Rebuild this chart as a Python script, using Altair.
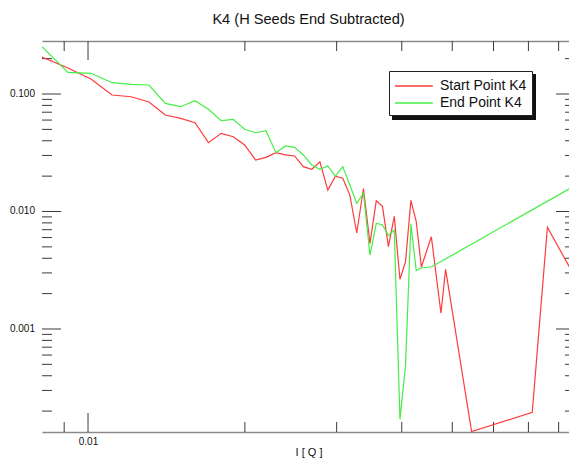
import altair as alt
import pandas as pd

FONT = "Liberation Sans"
title_text = "K4 (H Seeds End Subtracted)"
x_title = "I [ Q ]"
series_names = ["Start Point K4", "End Point K4"]
RED = "#ff3b3b"
GREEN = "#44ee44"

start_q = [0.00816, 0.00915, 0.01013, 0.01112, 0.0121, 0.01309, 0.01407, 0.01506, 0.01604, 0.01703,
           0.01801, 0.0190, 0.01998, 0.02097, 0.02195, 0.02294, 0.02392, 0.02491, 0.02589, 0.02688,
           0.02786, 0.02885, 0.02983, 0.03082, 0.0318, 0.03279, 0.03377, 0.03476, 0.03574, 0.03673,
           0.03771, 0.0387, 0.03968, 0.04067, 0.04165, 0.04264, 0.04362, 0.04559, 0.04756, 0.04855,
           0.05446, 0.0712, 0.07613, 0.0840]
start_i = [0.2065, 0.1665, 0.1341, 0.0980, 0.0948, 0.0855, 0.0663, 0.0621, 0.0570, 0.0385,
           0.0463, 0.0433, 0.0368, 0.0274, 0.0289, 0.0317, 0.0303, 0.0297, 0.0241, 0.0229,
           0.0265, 0.0152, 0.0200, 0.0192, 0.0138, 0.00656, 0.0157, 0.00536, 0.01235, 0.01107,
           0.00502, 0.00910, 0.00265, 0.00374, 0.01243, 0.00822, 0.00337, 0.00610, 0.00136, 0.00322,
           0.000134, 0.000195, 0.00734, 0.00334]

end_q = [0.00816, 0.00915, 0.01013, 0.01112, 0.0121, 0.01309, 0.01407, 0.01506, 0.01604, 0.01703,
         0.01801, 0.0190, 0.01998, 0.02097, 0.02195, 0.02294, 0.02392, 0.02491, 0.02589, 0.02688,
         0.02786, 0.02885, 0.02983, 0.03082, 0.0318, 0.03279, 0.03377, 0.03476, 0.03574, 0.03673,
         0.03771, 0.0387, 0.03968, 0.04067, 0.04165, 0.04264, 0.04362, 0.04559, 0.0840]
end_i = [0.2527, 0.1530, 0.1500, 0.1248, 0.1210, 0.1193, 0.0833, 0.0780, 0.0877, 0.0741,
         0.0593, 0.0609, 0.0501, 0.0468, 0.0487, 0.0317, 0.0361, 0.0352, 0.0303, 0.0249,
         0.0229, 0.0244, 0.0200, 0.0241, 0.0168, 0.01170, 0.01437, 0.00426, 0.00794, 0.00768,
         0.00625, 0.00696, 0.000171, 0.000484, 0.00787, 0.00314, 0.00332, 0.00337, 0.01566]

x_major = [0.01]
x_minor = [0.009, 0.02, 0.03, 0.04, 0.05, 0.06, 0.07, 0.08]
y_major = [0.1, 0.01, 0.001]
y_minor = [0.2,
           0.09, 0.08, 0.07, 0.06, 0.05, 0.04, 0.03, 0.02,
           0.009, 0.008, 0.007, 0.006, 0.005, 0.004, 0.003, 0.002,
           0.0009, 0.0008, 0.0007, 0.0006, 0.0005, 0.0004, 0.0003, 0.0002]

W, H = 527, 391
XR = 533          # plot's right edge lies just beyond the picture
MAJ, MIN = 19, 10
TICK = "#3a3a3a"

x_scale = alt.Scale(type="log", domain=[0.00816, 0.0860], range=[0, XR])
y_scale = alt.Scale(type="log", domain=[0.0001328, 0.2826])

df = pd.DataFrame({
    "q": start_q + end_q,
    "I": start_i + end_i,
    "series": [series_names[0]] * len(start_q) + [series_names[1]] * len(end_q),
})

lines = alt.Chart(df).mark_line(strokeWidth=1.2, clip=True).encode(
    x=alt.X("q:Q", scale=x_scale,
            axis=alt.Axis(orient="bottom", values=x_major, format=".2f", title=x_title,
                          ticks=False, tickSize=0, labelPadding=4, grid=False,
                          titleY=23, titleBaseline="alphabetic")),
    y=alt.Y("I:Q", scale=y_scale, axis=None),
    color=alt.Color("series:N", scale=alt.Scale(domain=series_names, range=[RED, GREEN]),
                    legend=alt.Legend(orient="none", legendX=347, legendY=30, title=None,
                                      fillColor="white", strokeColor="#222", padding=5,
                                      symbolType="M-1,0L3.2,0", symbolSize=324,
                                      symbolStrokeWidth=1.3, labelFontSize=14, labelFont=FONT,
                                      labelColor="#111", labelOffset=26, rowPadding=0)),
)


def xticks(vals, y0, y1, axis=None):
    return alt.Chart(pd.DataFrame({"v": vals})).mark_rule(color=TICK, strokeWidth=1).encode(
        x=alt.X("v:Q", scale=x_scale, axis=axis), y=alt.value(y0), y2=alt.value(y1))


def yticks(vals, x0, x1, axis=None):
    return alt.Chart(pd.DataFrame({"v": vals})).mark_rule(color=TICK, strokeWidth=1).encode(
        y=alt.Y("v:Q", scale=y_scale, axis=axis), x=alt.value(x0), x2=alt.value(x1))


top_axis = alt.Axis(orient="top", labels=False, ticks=False, title=None, grid=False)
left_axis = alt.Axis(orient="left", values=y_major, labels=False, title=None, ticks=False,
                     tickSize=0, grid=False)

# y tick labels, placed through the y scale
y_labels = alt.Chart(pd.DataFrame({"v": y_major})).mark_text(
    align="right", baseline="middle", font=FONT, fontSize=10, color="#111").encode(
    y=alt.Y("v:Q", scale=y_scale, axis=None), x=alt.value(-7),
    text=alt.Text("v:Q", format=".3f"))

shadow = alt.Chart(pd.DataFrame({"a": [0]})).mark_rect(color="#111").encode(
    x=alt.value(350), x2=alt.value(494), y=alt.value(33), y2=alt.value(79))

chart = alt.layer(
    xticks(x_major, 0, MAJ, top_axis),
    xticks(x_minor, 0, MIN),
    xticks(x_major, H, H - MAJ),
    xticks(x_minor, H, H - MIN),
    yticks(y_major, 0, MAJ, left_axis),
    yticks(y_minor, 0, MIN),
    yticks(y_major, XR - MAJ, XR),
    yticks(y_minor, XR - MIN, XR),
    y_labels,
    shadow,
    lines,
).properties(
    width=W, height=H,
    padding={"left": 42, "top": 41, "right": 0, "bottom": 26},
    autosize=alt.AutoSizeParams(type="none"),
    title=alt.TitleParams(title_text, fontSize=14.6, font=FONT, fontWeight="normal",
                          color="#111", offset=2, baseline="alphabetic", dx=3),
).configure_view(stroke=None).configure_axis(
    labelFont=FONT, labelFontSize=10, labelColor="#111",
    titleFont=FONT, titleFontSize=11, titleFontWeight="normal", titleColor="#111",
    domainColor="#8a8a8a", domainWidth=1.5,
)

chart.save("out.html", embed_options={"renderer": "svg", "actions": False})
